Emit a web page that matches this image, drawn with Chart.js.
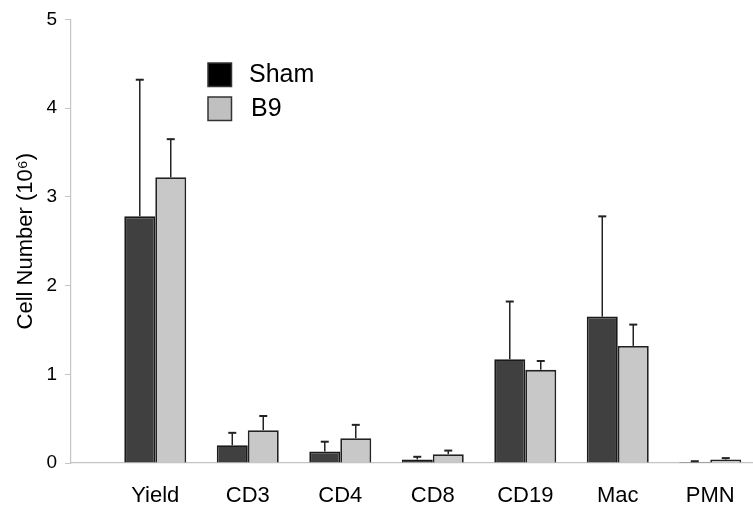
<!DOCTYPE html>
<html lang="en">
<head>
<meta charset="UTF-8">
<title>Cell Number</title>
<script src="https://cdn.jsdelivr.net/npm/chart.js"></script>
<style>
  html, body { margin: 0; padding: 0; background: #fff; }
  #wrap { width: 753px; height: 506px; position: relative; }
</style>
</head>
<body>
<div id="wrap"><canvas id="graphique"></canvas></div>
<script>
// données
const categories = ['Yield', 'CD3', 'CD4', 'CD8', 'CD19', 'Mac', 'PMN'];
const shamMoy = [2.78, 0.20, 0.13, 0.04, 1.17, 1.65, 0.01];
const shamErr = [1.54, 0.14, 0.11, 0.03, 0.65, 1.13, 0.01];
const b9Moy = [3.22, 0.37, 0.28, 0.10, 1.05, 1.32, 0.04];
const b9Err = [0.43, 0.16, 0.15, 0.04, 0.10, 0.24, 0.015];
const yTicks = [0, 1, 2, 3, 4, 5];

const police = "'Liberation Sans', Arial, sans-serif";

function points(valeurs) {
  return valeurs.map((v, i) => ({ x: i + 1, y: v }));
}

// barres d'erreur (vers le haut seulement)
const barresErreur = {
  id: 'barresErreur',
  afterDatasetsDraw(chart) {
    const ctx = chart.ctx;
    const y = chart.scales.y;
    chart.data.datasets.forEach((ds, d) => {
      const meta = chart.getDatasetMeta(d);
      meta.data.forEach((bar, i) => {
        const haut = y.getPixelForValue(ds.data[i].y + ds.erreurs[i]);
        ctx.save();
        ctx.strokeStyle = '#222';
        ctx.lineWidth = 1.5;
        ctx.beginPath();
        ctx.moveTo(bar.x, bar.y);
        ctx.lineTo(bar.x, haut);
        ctx.stroke();
        ctx.lineWidth = 2;
        ctx.beginPath();
        ctx.moveTo(bar.x - 4, haut);
        ctx.lineTo(bar.x + 4, haut);
        ctx.stroke();
        ctx.restore();
      });
    });
  }
};

// légende dans la zone du graphique
const legende = {
  id: 'legende',
  afterDraw(chart) {
    const ctx = chart.ctx;
    const lignes = [{ y: 63 }, { y: 97 }];
    chart.data.datasets.forEach((ds, d) => {
      const top = lignes[d].y;
      ctx.save();
      ctx.fillStyle = ds.couleurLegende;
      ctx.fillRect(208, top, 23.5, 23.5);
      ctx.strokeStyle = '#333';
      ctx.lineWidth = 1.5;
      ctx.strokeRect(208, top, 23.5, 23.5);
      ctx.fillStyle = '#000';
      ctx.font = '25px ' + police;
      ctx.textBaseline = 'middle';
      ctx.fillText(ds.label, d === 0 ? 249 : 251, top + 12);
      ctx.restore();
    });
  }
};

new Chart(document.getElementById('graphique'), {
  type: 'bar',
  data: {
    datasets: [
      {
        label: 'Sham',
        data: points(shamMoy),
        erreurs: shamErr,
        backgroundColor: '#404040',
        borderColor: '#1a1a1a',
        borderWidth: 1.8,
        couleurLegende: '#000'
      },
      {
        label: 'B9',
        data: points(b9Moy),
        erreurs: b9Err,
        backgroundColor: '#c8c8c8',
        borderColor: '#222',
        borderWidth: 1.8,
        couleurLegende: '#c0c0c0'
      }
    ]
  },
  plugins: [barresErreur, legende],
  options: {
    responsive: true,
    maintainAspectRatio: false,
    animation: false,
    categoryPercentage: 0.67,
    barPercentage: 1.0,
    layout: { padding: { top: 19, right: 0, left: 0, bottom: 0 } },
    plugins: {
      legend: { display: false },
      tooltip: { enabled: false }
    },
    scales: {
      x: {
        type: 'linear',
        offset: false,
        min: 0.089,
        max: 7.462,
        grid: { display: false },
        border: { display: true, color: '#c4c4c4', width: 1.2 },
        afterBuildTicks(scale) {
          scale.ticks = categories.map((c, i) => ({ value: i + 1 }));
        },
        afterFit(scale) { scale.height = 43; },
        ticks: {
          autoSkip: false,
          maxRotation: 0,
          padding: 12,
          color: '#000',
          font: { family: police, size: 22 },
          callback: (v) => categories[v - 1] || ''
        }
      },
      y: {
        min: 0,
        max: 5,
        afterBuildTicks(scale) {
          scale.ticks = yTicks.map(v => ({ value: v }));
        },
        afterFit(scale) { scale.width = 71; },
        grid: {
          drawOnChartArea: false,
          drawTicks: true,
          tickLength: 6,
          color: '#c4c4c4'
        },
        border: { display: true, color: '#c4c4c4', width: 1.2 },
        ticks: {
          padding: 8,
          color: '#000',
          font: { family: police, size: 19 }
        },
        title: {
          display: true,
          text: 'Cell Number (10⁶)',
          color: '#000',
          font: { family: police, size: 22 },
          padding: { top: 13, bottom: 0 }
        }
      }
    }
  }
});
</script>
</body>
</html>
